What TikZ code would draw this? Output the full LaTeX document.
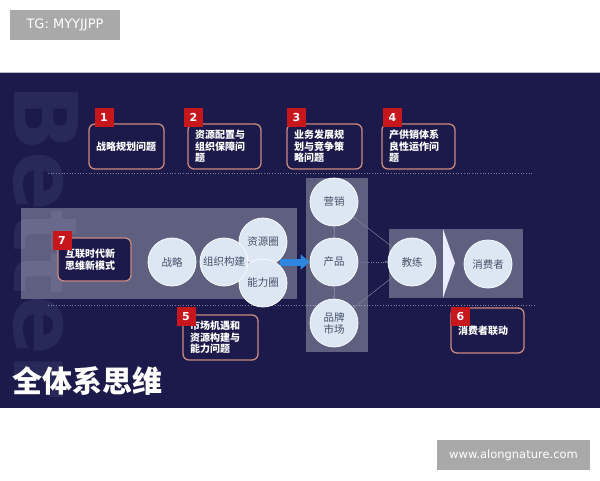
\documentclass[tikz,border=0pt]{standalone}
\usepackage{fontspec}
\setmainfont{DejaVu Sans}
\newfontfamily\cjk{Noto Sans CJK SC}
\usetikzlibrary{arrows.meta}
\definecolor{navybg}{HTML}{1B1A4A}
\definecolor{tagred}{HTML}{C8161D}
\definecolor{boxedge}{HTML}{C98A80}
\definecolor{circfill}{HTML}{DCE7F3}
\definecolor{circtext}{HTML}{465068}
\definecolor{stampgray}{HTML}{A9A9A9}
\definecolor{flowblue}{HTML}{2E86DE}
\definecolor{markgray}{HTML}{292959}
\begin{document}
\begin{tikzpicture}[x=1pt,y=-1pt,
  issue/.style={draw=boxedge, line width=1.3pt, rounded corners=6pt, fill=navybg,
    text=white, font=\cjk\bfseries\fontsize{10}{11.5}\selectfont, align=left,
    text width=61pt, inner xsep=7pt, inner ysep=0pt, minimum height=45pt},
  tag/.style={fill=tagred, text=white, font=\bfseries\fontsize{11}{11}\selectfont,
    minimum size=19pt, inner sep=0pt},
  ring/.style={circle, fill=circfill, draw=white!80!circfill, line width=0.8pt,
    minimum size=48pt, inner sep=0pt, text=circtext,
    font=\cjk\fontsize{10.5}{12}\selectfont, align=center},
  panel/.style={fill=white, fill opacity=0.3},
  stamp/.style={fill=stampgray, text=white, minimum height=30pt},
  link/.style={draw=white!45!navybg, line width=0.5pt}
]
  % Page and dark slide
  \fill[white] (0,0) rectangle (600,480);
  \useasboundingbox (0,0) rectangle (600,480);
  \fill[navybg] (0,72) rectangle (600,408);
  \draw[white!70!navybg] (0,72.5) -- (600,72.5);

  % Faint big letters on the left
  \node[rotate=-90, anchor=base west, text=markgray, inner sep=0pt,
    font=\bfseries\fontsize{88}{88}\selectfont] (mark) at (14,84) {Better};

  % Stamps
  \node[stamp, minimum width=110pt, font=\fontsize{13}{13}\selectfont] (tg) at (65,25) {TG: MYYJJPP};
  \node[stamp, minimum width=153pt, font=\fontsize{11.5}{12}\selectfont] (site) at (513.5,455) {www.alongnature.com};

  % Dotted separators
  \draw[white!45!navybg, dotted, line width=0.7pt] (48,173) -- (532,173);
  \draw[white!45!navybg, dotted, line width=0.7pt] (48,305) -- (535,305);

  % Panels
  \fill[panel] (21,208) rectangle (297,299);
  \fill[panel] (306,178) rectangle (368,352);
  \fill[panel] (389,229) rectangle (523,298);
  \fill[white!92!blue] (443,229) -- (455,263) -- (443,298) -- cycle;

  % Blue flow arrow
  \coordinate (fork) at (280,262);
  \node[ring] (cp) at (334,262) {产品};
  \draw[flowblue, line width=7pt, -{Triangle[length=9pt,width=15pt]}] (fork) -- (cp.west);

  % Circles
  \node[ring] (zl) at (172,262) {战略};
  \node[ring] (zy) at (263,242) {资源圈};
  \node[ring] (nl) at (263,283) {能力圈};
  \node[ring] (zz) at (224,262) {组织构建};
  \node[ring] (yx) at (334,202) {营销};
  \node[ring] (pp) at (334,323) {品牌\\市场};
  \node[ring] (jl) at (412,262) {教练};
  \node[ring] (xf) at (488,264) {消费者};

  % Thin links
  \draw[link, {Stealth[length=3pt]}-{Stealth[length=3pt]}] (yx) -- (cp);
  \draw[link, {Stealth[length=3pt]}-{Stealth[length=3pt]}] (cp) -- (pp);
  \draw[link, dotted, -{Stealth[length=3pt]}] (cp) -- (jl);
  \draw[link, -{Stealth[length=3pt]}] (jl) -- (yx);
  \draw[link, -{Stealth[length=3pt]}] (jl) -- (pp);

  % Issue boxes
  \node[issue] (b1) at (126.5,146.5) {战略规划问题};
  \node[issue, text width=59pt] (b2) at (224.5,146.5) {资源配置与\\组织保障问\\题};
  \node[issue] (b3) at (324.5,146.5) {业务发展规\\划与竞争策\\略问题};
  \node[issue, text width=59pt] (b4) at (418.5,146.5) {产供销体系\\良性运作问\\题};
  \node[issue] (b5) at (220.5,337.5) {市场机遇和\\资源构建与\\能力问题};
  \node[issue, text width=59pt] (b6) at (487.5,330.5) {消费者联动};
  \node[issue, text width=59pt, minimum height=43pt] (b7) at (94.5,259.5) {互联时代新\\思维新模式};

  % Number tags
  \node[tag] (t1) at (104,117.5) {1};
  \node[tag] (t2) at (193.5,117.5) {2};
  \node[tag] (t3) at (296.5,117.5) {3};
  \node[tag] (t4) at (392.5,117.5) {4};
  \node[tag] (t5) at (186,316.5) {5};
  \node[tag] (t6) at (460.5,316.5) {6};
  \node[tag] (t7) at (62,240.5) {7};

  % Title
  \node[anchor=west, text=white, inner sep=0pt,
    font=\cjk\bfseries\fontsize{30}{30}\selectfont] (title) at (12,381) {全体系思维};
\end{tikzpicture}
\end{document}
